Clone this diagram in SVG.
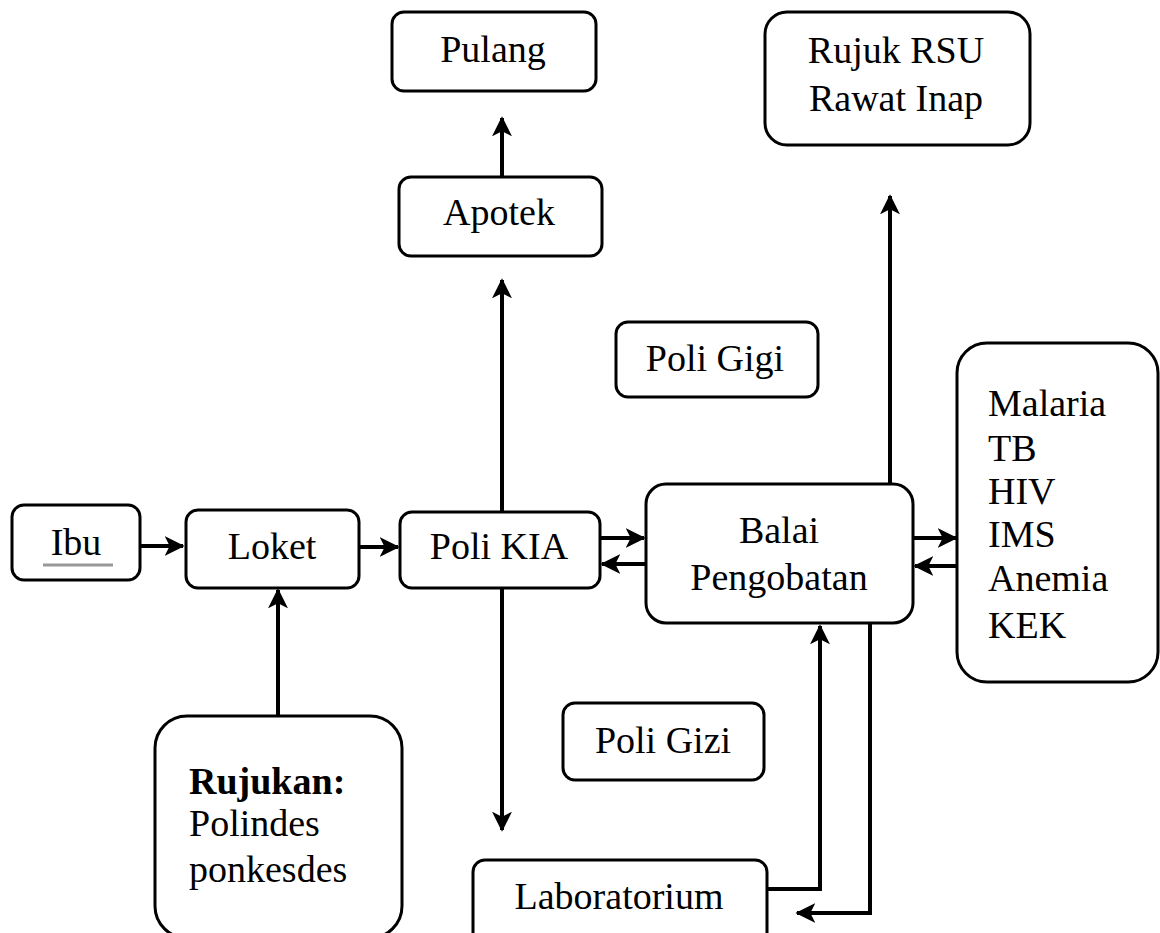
<svg xmlns="http://www.w3.org/2000/svg" width="1160" height="933" viewBox="0 0 1160 933">
<defs>
<style>
.box{fill:#fff;stroke:#000;stroke-width:3}
.t{font-family:"Liberation Serif","Times New Roman",serif;font-size:38px;fill:#000}
.c{text-anchor:middle}
.ln{fill:none;stroke:#000;stroke-width:4}
</style>
<marker id="ah" viewBox="0 0 12 12" refX="11" refY="6" markerWidth="12" markerHeight="12" markerUnits="userSpaceOnUse" orient="auto">
<path d="M0,0 L12,6 L0,12 L3,6 z" fill="#000"/>
</marker>
<marker id="ahb" viewBox="0 0 12 12" refX="11" refY="6" markerWidth="20" markerHeight="20" markerUnits="userSpaceOnUse" orient="auto">
<path d="M0,0 L12,6 L0,12 L3,6 z" fill="#000"/>
</marker>
</defs>
<rect width="1160" height="933" fill="#fff"/>
<g id="connectors">
<line class="ln" x1="140" y1="546" x2="183" y2="546" marker-end="url(#ahb)"/>
<line class="ln" x1="359" y1="547" x2="398" y2="547" marker-end="url(#ahb)"/>
<line class="ln" x1="278" y1="716" x2="278" y2="590" marker-end="url(#ahb)"/>
<line class="ln" x1="502" y1="176" x2="502" y2="118" marker-end="url(#ahb)"/>
<line class="ln" x1="502" y1="512" x2="502" y2="280" marker-end="url(#ahb)"/>
<line class="ln" x1="502" y1="588" x2="502" y2="830" marker-end="url(#ahb)"/>
<line class="ln" x1="600" y1="538" x2="644" y2="538" marker-end="url(#ahb)"/>
<line class="ln" x1="646" y1="564" x2="602" y2="564" marker-end="url(#ahb)"/>
<line class="ln" x1="913" y1="538" x2="956" y2="538" marker-end="url(#ahb)"/>
<line class="ln" x1="958" y1="566" x2="915" y2="566" marker-end="url(#ahb)"/>
<line class="ln" x1="890" y1="484" x2="890" y2="196" marker-end="url(#ahb)"/>
<polyline class="ln" points="767,889 820,889 820,626" marker-end="url(#ahb)"/>
<polyline class="ln" points="870,623 870,913 797,913" marker-end="url(#ahb)"/>
</g>
<g id="ibu">
<rect class="box" x="12" y="505" width="128" height="75" rx="12"/>
<text class="t c" x="76" y="555">Ibu</text>
<line x1="43" y1="565" x2="113" y2="565" stroke="#999" stroke-width="3"/>
</g>
<g id="loket">
<rect class="box" x="186" y="510" width="173" height="78" rx="12"/>
<text class="t c" x="272" y="559">Loket</text>
</g>
<g id="polikia">
<rect class="box" x="400" y="512" width="200" height="76" rx="12"/>
<text class="t c" x="499" y="559">Poli KIA</text>
</g>
<g id="balai">
<rect class="box" x="646" y="484" width="267" height="139" rx="20"/>
<text class="t c" x="779" y="543">Balai</text>
<text class="t c" x="779" y="590">Pengobatan</text>
</g>
<g id="penyakit">
<rect class="box" x="957" y="343" width="201" height="339" rx="30"/>
<text class="t" x="988" y="416">Malaria</text>
<text class="t" x="988" y="461">TB</text>
<text class="t" x="988" y="504">HIV</text>
<text class="t" x="988" y="547">IMS</text>
<text class="t" x="988" y="591">Anemia</text>
<text class="t" x="988" y="638">KEK</text>
</g>
<g id="rujukrsu">
<rect class="box" x="765" y="12" width="265" height="133" rx="22"/>
<text class="t c" x="896" y="63">Rujuk RSU</text>
<text class="t c" x="896" y="111">Rawat Inap</text>
</g>
<g id="pulang">
<rect class="box" x="392" y="12" width="204" height="79" rx="12"/>
<text class="t c" x="493" y="62">Pulang</text>
</g>
<g id="apotek">
<rect class="box" x="399" y="177" width="203" height="79" rx="12"/>
<text class="t c" x="499" y="225">Apotek</text>
</g>
<g id="poligigi">
<rect class="box" x="616" y="322" width="202" height="75" rx="12"/>
<text class="t c" x="715" y="371">Poli Gigi</text>
</g>
<g id="poligizi">
<rect class="box" x="563" y="703" width="201" height="77" rx="12"/>
<text class="t c" x="663" y="753">Poli Gizi</text>
</g>
<g id="laboratorium">
<rect class="box" x="473" y="860" width="294" height="85" rx="12"/>
<text class="t c" x="619" y="909">Laboratorium</text>
</g>
<g id="rujukan">
<rect class="box" x="155" y="716" width="247" height="222" rx="32"/>
<text class="t" x="189" y="794" font-weight="bold">Rujukan:</text>
<text class="t" x="189" y="836">Polindes</text>
<text class="t" x="189" y="882">ponkesdes</text>
</g>
</svg>
